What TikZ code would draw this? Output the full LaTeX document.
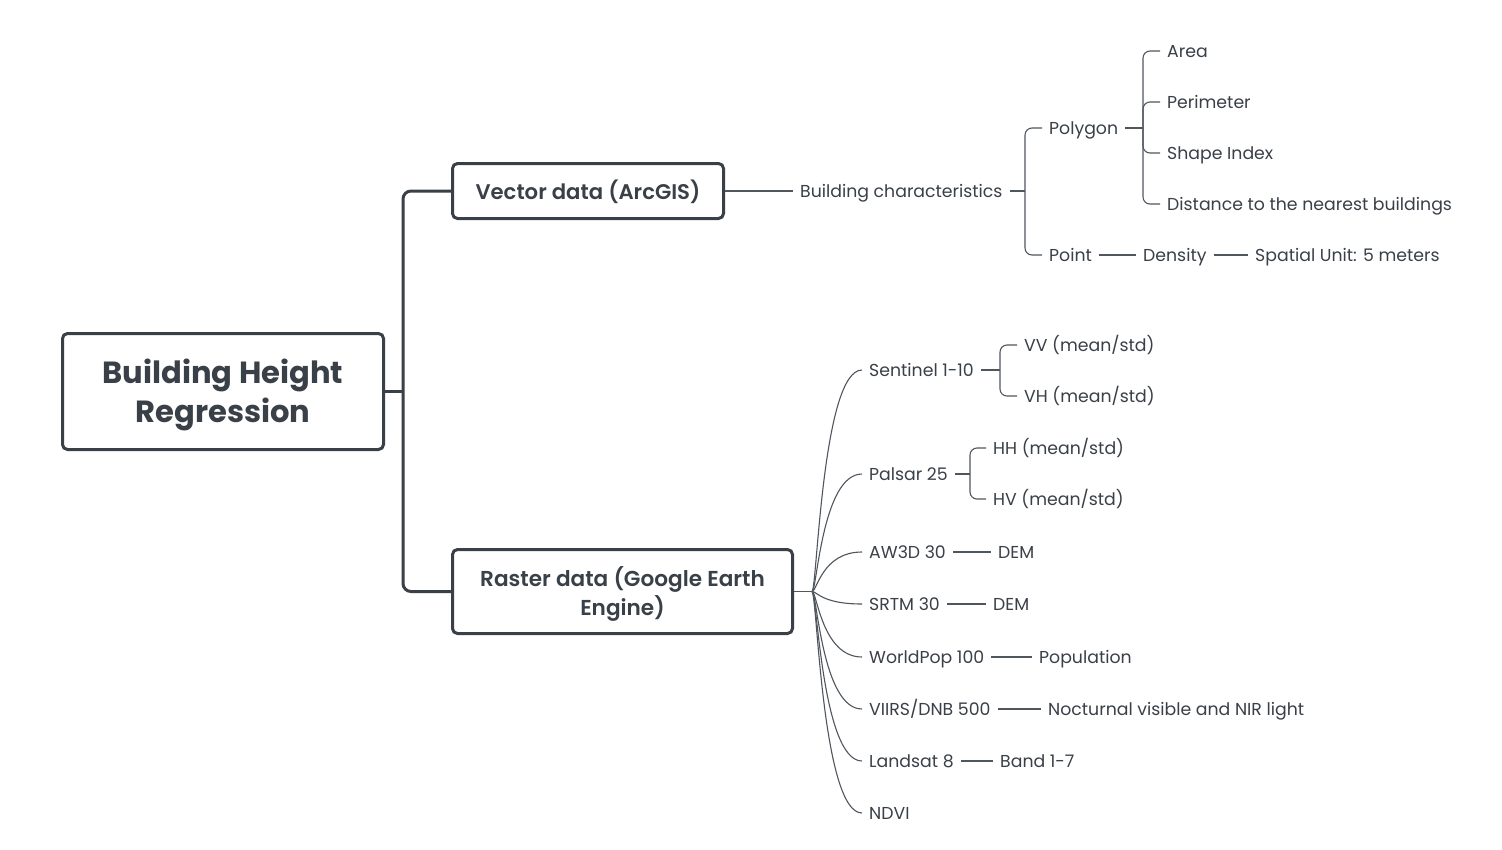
\documentclass[tikz,border=0pt]{standalone}
\usepackage{fontspec}
\setmainfont{Poppins}
\newfontfamily\semib{Poppins SemiBold}
\usetikzlibrary{positioning}
\definecolor{ink}{RGB}{58,64,72}
\definecolor{lineink}{RGB}{80,86,94}
\begin{document}
\begin{tikzpicture}[x=1pt,y=-1pt,
  bigbox/.style={draw=ink, line width=3pt, rounded corners=5pt, inner sep=0pt},
  boxtext/.style={text=ink, align=center, inner sep=0pt},
  leaf/.style={text=ink, font=\fontsize{17.3}{20}\selectfont, inner xsep=7pt, inner ysep=0pt, text height=16pt, text depth=3.4pt, anchor=west},
  thin/.style={draw=lineink, line width=1.1pt},
  bracket/.style={thin, rounded corners=7pt},
  thick/.style={draw=ink, line width=3pt}]
\useasboundingbox (0,0) rectangle (1502,849);
\fill[white] (0,0) rectangle (1502,849);

% main boxes
\node[bigbox, minimum width=321pt, minimum height=116pt] (root) at (223,391.5) {};
\node[boxtext, font=\fontsize{30.6}{39}\selectfont\bfseries] (roott) at ([yshift=-3.5pt]root.center) {Building Height\\Regression};
\node[bigbox, minimum width=271pt, minimum height=55pt] (vec) at (588,191) {};
\node[boxtext, font=\semib\fontsize{21.2}{29}\selectfont] (vect) at ([yshift=-1pt]vec.center) {Vector data (ArcGIS)};
\node[bigbox, minimum width=340pt, minimum height=84pt] (ras) at (622.5,591.5) {};
\node[boxtext, font=\semib\fontsize{21.6}{29}\selectfont] (rast) at ([yshift=-2pt]ras.center) {Raster data (Google Earth\\Engine)};

\coordinate (tj) at (403,391.5);
\draw[thick] (root.east) -- (tj);
\draw[thick, rounded corners=8pt] (vec.west) -| (tj) |- (ras.west);

% vector branch
\node[leaf] (bc) at (793,191) {Building characteristics};
\draw[thin] (vec.east) -- (bc.west);
\coordinate (bcj) at (1025,191);
\node[leaf] (poly) at (1042,128) {Polygon};
\node[leaf] (point) at (1042,255) {Point};
\draw[thin] (bc.east) -- (bcj);
\draw[bracket] (bcj) |- (poly.west);
\draw[bracket] (bcj) |- (point.west);

\coordinate (pj) at (1143,128);
\node[leaf] (area) at (1160,51) {Area};
\node[leaf] (perim) at (1160,102) {Perimeter};
\node[leaf] (shape) at (1160,153) {Shape Index};
\node[leaf] (dist) at (1160,204) {Distance to the nearest buildings};
\draw[thin] (poly.east) -- (pj);
\foreach \n in {area,perim,shape,dist} \draw[bracket] (pj) |- (\n.west);

\node[leaf] (dens) at (1136,255) {Density};
\node[leaf] (spat) at (1248,255) {Spatial Unit: 5 meters};
\draw[thin] (point.east) -- (dens.west);
\draw[thin] (dens.east) -- (spat.west);

% raster branch
\coordinate (rj) at (812,591.5);
\draw[thin] (ras.east) -- (rj);
\node[leaf] (sen) at (862,370) {Sentinel 1-10};
\node[leaf] (pal) at (862,474) {Palsar 25};
\node[leaf] (aw) at (862,552) {AW3D 30};
\node[leaf] (srtm) at (862,604) {SRTM 30};
\node[leaf] (wp) at (862,657) {WorldPop 100};
\node[leaf] (vi) at (862,709) {VIIRS/DNB 500};
\node[leaf] (ls) at (862,761) {Landsat 8};
\node[leaf] (nd) at (862,813) {NDVI};
\foreach \n in {sen,pal,aw,srtm,wp,vi,ls,nd}
  \draw[thin] (rj) .. controls +(5,0) and +(-40,0) .. (\n.west);

\coordinate (sj) at (1000,370);
\node[leaf] (vv) at (1017,345) {VV (mean/std)};
\node[leaf] (vh) at (1017,396) {VH (mean/std)};
\draw[thin] (sen.east) -- (sj);
\draw[bracket] (sj) |- (vv.west);
\draw[bracket] (sj) |- (vh.west);

\coordinate (pjj) at (970,474);
\node[leaf] (hh) at (986,448) {HH (mean/std)};
\node[leaf] (hv) at (986,499) {HV (mean/std)};
\draw[thin] (pal.east) -- (pjj);
\draw[bracket] (pjj) |- (hh.west);
\draw[bracket] (pjj) |- (hv.west);

\node[leaf] (dem1) at (991,552) {DEM};
\draw[thin] (aw.east) -- (dem1.west);
\node[leaf] (dem2) at (986,604) {DEM};
\draw[thin] (srtm.east) -- (dem2.west);
\node[leaf] (pop) at (1032,657) {Population};
\draw[thin] (wp.east) -- (pop.west);
\node[leaf] (noc) at (1041,709) {Nocturnal visible and NIR light};
\draw[thin] (vi.east) -- (noc.west);
\node[leaf] (band) at (993,761) {Band 1-7};
\draw[thin] (ls.east) -- (band.west);
\end{tikzpicture}
\end{document}
